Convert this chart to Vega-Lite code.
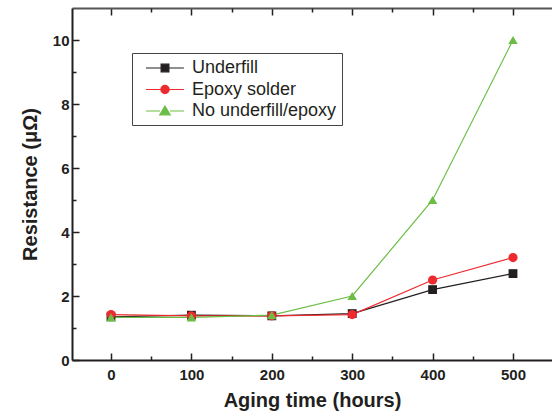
{
  "$schema": "https://vega.github.io/schema/vega-lite/v6.json",
  "width": 480,
  "height": 352,
  "autosize": "none",
  "padding": {"left": 72, "top": 8, "right": 0, "bottom": 60},
  "background": "white",
  "config": {
    "view": {"stroke": null},
    "font": "Liberation Sans"
  },
  "data": {
    "values": [
      {"t": 0, "r": 1.35, "series": "Underfill"},
      {"t": 100, "r": 1.40, "series": "Underfill"},
      {"t": 200, "r": 1.38, "series": "Underfill"},
      {"t": 300, "r": 1.45, "series": "Underfill"},
      {"t": 400, "r": 2.20, "series": "Underfill"},
      {"t": 500, "r": 2.70, "series": "Underfill"},
      {"t": 0, "r": 1.42, "series": "Epoxy solder"},
      {"t": 100, "r": 1.38, "series": "Epoxy solder"},
      {"t": 200, "r": 1.38, "series": "Epoxy solder"},
      {"t": 300, "r": 1.42, "series": "Epoxy solder"},
      {"t": 400, "r": 2.50, "series": "Epoxy solder"},
      {"t": 500, "r": 3.20, "series": "Epoxy solder"},
      {"t": 0, "r": 1.33, "series": "No underfill/epoxy"},
      {"t": 100, "r": 1.33, "series": "No underfill/epoxy"},
      {"t": 200, "r": 1.40, "series": "No underfill/epoxy"},
      {"t": 300, "r": 2.00, "series": "No underfill/epoxy"},
      {"t": 400, "r": 5.00, "series": "No underfill/epoxy"},
      {"t": 500, "r": 10.0, "series": "No underfill/epoxy"}
    ]
  },
  "layer": [
    {
      "mark": {"type": "line", "strokeWidth": 1.2},
      "encoding": {
        "x": {
          "field": "t", "type": "quantitative",
          "scale": {"domain": [-48.5, 548.5], "nice": false, "zero": false},
          "axis": {
            "orient": "bottom",
            "values": [0, 100, 200, 300, 400, 500],
            "title": "Aging time (hours)",
            "titleFontSize": 20, "titleFontWeight": "bold", "titleColor": "#231f20",
            "titlePadding": 8,
            "labelFontSize": 15, "labelFontWeight": "bold", "labelColor": "#231f20",
            "labelPadding": 14,
            "domainColor": "#231f20", "domainWidth": 2,
            "tickColor": "#231f20", "tickWidth": 1.5, "tickSize": -7,
            "grid": false
          }
        },
        "y": {
          "field": "r", "type": "quantitative",
          "scale": {"domain": [0, 11], "nice": false},
          "axis": {
            "orient": "left",
            "values": [0, 2, 4, 6, 8, 10],
            "title": "Resistance (μΩ)",
            "titleFontSize": 20, "titleFontWeight": "bold", "titleColor": "#231f20",
            "titlePadding": 12,
            "labelFontSize": 15, "labelFontWeight": "bold", "labelColor": "#231f20",
            "labelPadding": 10,
            "domainColor": "#231f20", "domainWidth": 2,
            "tickColor": "#231f20", "tickWidth": 1.5, "tickSize": -7,
            "grid": false
          }
        },
        "color": {
          "field": "series", "type": "nominal", "legend": null,
          "scale": {"domain": ["Underfill", "Epoxy solder", "No underfill/epoxy"], "range": ["#231f20", "#ee2a2e", "#6cbd45"]}
        },
        "detail": {"field": "series"}
      }
    },
    {
      "mark": {"type": "point", "filled": true, "opacity": 1},
      "encoding": {
        "x": {
          "field": "t", "type": "quantitative",
          "axis": {
            "orient": "top",
            "values": [0, 100, 200, 300, 400, 500],
            "labels": false, "title": null,
            "domainColor": "#555555", "domainWidth": 2,
            "tickColor": "#231f20", "tickWidth": 1.5, "tickSize": -7,
            "grid": false
          }
        },
        "y": {"field": "r", "type": "quantitative", "axis": null},
        "color": {
          "field": "series", "type": "nominal", "legend": null,
          "scale": {"domain": ["Underfill", "Epoxy solder", "No underfill/epoxy"], "range": ["#231f20", "#ee2a2e", "#6cbd45"]}
        },
        "shape": {
          "field": "series", "type": "nominal", "legend": null,
          "scale": {"domain": ["Underfill", "Epoxy solder", "No underfill/epoxy"], "range": ["square", "circle", "triangle-up"]}
        },
        "size": {
          "field": "series", "type": "nominal", "legend": null,
          "scale": {"domain": ["Underfill", "Epoxy solder", "No underfill/epoxy"], "range": [78, 90, 105]}
        }
      }
    },
    {
      "transform": [{"filter": "datum.t < -1000"}],
      "mark": {"type": "point", "filled": true, "opacity": 1},
      "encoding": {
        "x": {
          "field": "t", "type": "quantitative",
          "axis": {
            "orient": "bottom", "values": [50, 150, 250, 350, 450],
            "labels": false, "title": null, "domain": false,
            "tickColor": "#231f20", "tickWidth": 1.5, "tickSize": -4, "grid": false
          }
        },
        "y": {
          "field": "r", "type": "quantitative",
          "axis": {
            "orient": "left", "values": [1, 3, 5, 7, 9],
            "labels": false, "title": null, "domain": false,
            "tickColor": "#231f20", "tickWidth": 1.5, "tickSize": -4, "grid": false
          }
        },
        "fill": {
          "field": "series", "type": "nominal",
          "scale": {"domain": ["Underfill", "Epoxy solder", "No underfill/epoxy"], "range": ["#231f20", "#ee2a2e", "#6cbd45"]},
          "legend": {
            "orient": "none", "legendX": 60, "legendY": 45, "title": null,
            "strokeColor": "#444444", "padding": 5,
            "labelFontSize": 18, "labelColor": "#231f20", "labelOffset": 35,
            "symbolSize": 324, "symbolStrokeWidth": 1.2, "symbolOpacity": 1,
            "rowPadding": 2.5
          }
        },
        "stroke": {
          "field": "series", "type": "nominal",
          "scale": {"domain": ["Underfill", "Epoxy solder", "No underfill/epoxy"], "range": ["#231f20", "#ee2a2e", "#6cbd45"]}
        },
        "shape": {
          "field": "series", "type": "nominal",
          "scale": {
            "domain": ["Underfill", "Epoxy solder", "No underfill/epoxy"],
            "range": [
              "M-0.11,0H1.57M2.43,0H4.1M1.57,-0.43H2.43V0.43H1.57Z",
              "M-0.11,0H1.54M2.46,0H4.1M1.54,0A0.46,0.46 0 1,0 2.46,0A0.46,0.46 0 1,0 1.54,0Z",
              "M-0.11,0H1.45M2.55,0H4.1M1.42,0.42L2,-0.55L2.58,0.42Z"
            ]
          }
        }
      }
    },
    {
      "transform": [{"filter": "datum.t < -1000"}],
      "mark": {"type": "point"},
      "encoding": {
        "x": {
          "field": "t", "type": "quantitative",
          "axis": {
            "orient": "top", "values": [50, 150, 250, 350, 450],
            "labels": false, "title": null, "domain": false,
            "tickColor": "#231f20", "tickWidth": 1.5, "tickSize": -4, "grid": false
          }
        },
        "y": {"field": "r", "type": "quantitative", "axis": null}
      }
    }
  ],
  "resolve": {
    "axis": {"x": "independent", "y": "independent"},
    "scale": {"fill": "independent", "stroke": "independent", "shape": "independent", "size": "independent"}
  }
}
